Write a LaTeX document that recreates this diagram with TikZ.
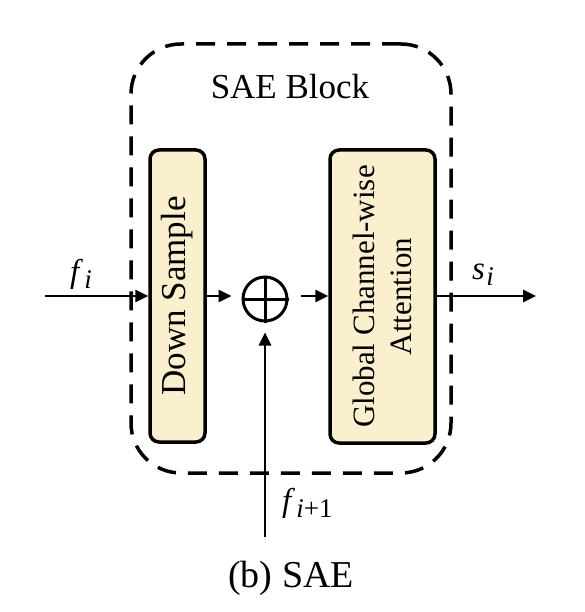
\documentclass[tikz,border=0pt]{standalone}
\usepackage{fontspec}
\setmainfont{Liberation Serif}
\usetikzlibrary{arrows.meta}
\definecolor{boxfill}{HTML}{FBF0CD}
\newcommand{\mysubvar}[2]{\textit{#1}\kern0.04em\raisebox{-0.2em}{\fontsize{27}{30}\selectfont #2}}
\tikzset{
  blockbox/.style={draw, line width=3.5pt, dash pattern=on 19pt off 12pt, rounded corners=50pt, inner sep=0pt},
  modbox/.style={draw, line width=3.5pt, fill=boxfill, rounded corners=9pt, inner sep=0pt, align=center},
  arr/.style={line width=2.8pt, -{Triangle[length=13pt,width=12pt]}},
  lbl/.style={font=\fontsize{35}{40}\selectfont, inner sep=0pt},
  mlbl/.style={font=\fontsize{33}{36}\selectfont, inner sep=0pt, anchor=base west}
}
\begin{document}
\begin{tikzpicture}[x=1pt,y=-1pt]
\useasboundingbox (0,0) rectangle (584,612);
\node[blockbox, minimum width=320pt, minimum height=429pt] (blk) at (291,258.5) {};
\node[lbl] (title) at (290,87) {SAE Block};
\node[modbox, minimum width=55pt, minimum height=292pt] (ds) at (177.5,296) {};
\node[lbl, rotate=90] (dstext) at (ds.center) {Down Sample};
\node[modbox, minimum width=105pt, minimum height=293pt] (gca) at (382.5,296.5) {};
\node[lbl, rotate=90, align=center, font=\fontsize{31}{37}\selectfont] (gcatext) at (gca.center) {Global Channel-wise\\Attention};
\node[draw, circle, line width=3pt, minimum size=44pt, inner sep=0pt] (op) at (265,299) {};
\draw[line width=3pt] (op.north) -- (op.south);
\draw[line width=3pt] (op.west) -- (op.east);
\coordinate (in) at (45,296);
\coordinate (out) at (536,296);
\coordinate (bot) at (265,537);
\draw[arr] (in) -- (ds.west |- in);
\draw[arr, shorten >=10pt] (ds.east |- in) -- (op.west |- in);
\draw[arr, shorten <=12pt] (op.east |- in) -- (gca.west |- in);
\draw[arr] (gca.east |- in) -- (out);
\draw[arr, shorten >=10pt] (bot) -- (op.south);
\node[mlbl] (fi) at (70,282) {\mysubvar{f}{\textit{i}}};
\node[mlbl] (si) at (472,279) {\mysubvar{s}{\textit{i}}};
\node[mlbl] (fi1) at (282,511) {\mysubvar{f}{\textit{i}+1}};
\node[lbl, font=\fontsize{38}{44}\selectfont] (cap) at (291,578) {(b) SAE};
\end{tikzpicture}
\end{document}
